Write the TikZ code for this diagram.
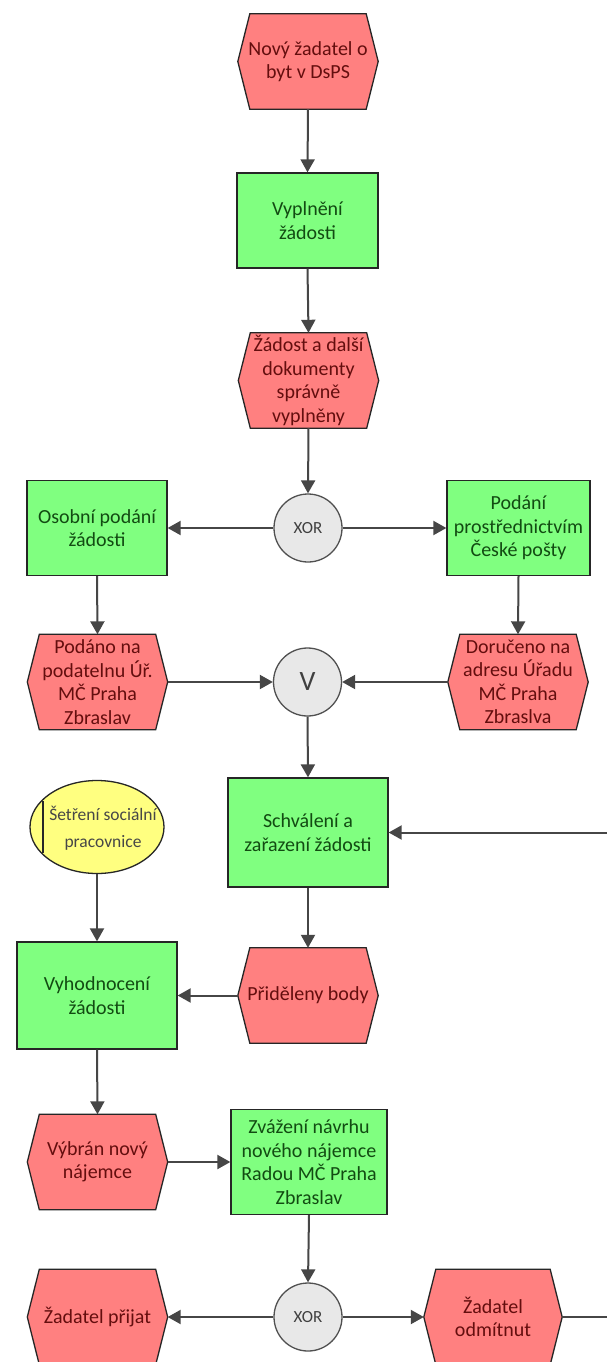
\documentclass[tikz,border=0pt]{standalone}
\usepackage{fontspec}
\setmainfont{Carlito}
\usetikzlibrary{arrows.meta,shapes.geometric,backgrounds}

\definecolor{evfill}{RGB}{255,128,128}
\definecolor{evtext}{RGB}{100,14,14}
\definecolor{fnfill}{RGB}{128,255,128}
\definecolor{fntext}{RGB}{18,75,18}
\definecolor{opfill}{RGB}{232,232,232}
\definecolor{opline}{RGB}{80,80,80}
\definecolor{orgfill}{RGB}{255,255,128}
\definecolor{linecol}{RGB}{70,70,70}

\tikzset{
  base/.style={font=\fontsize{20}{23.5}\selectfont, align=center, inner sep=0pt},
  event/.style={base, text=evtext, minimum width=140pt, minimum height=95pt},
  evshape/.style={fill=evfill, draw=black!85, line width=1.3pt, line join=miter},
  func/.style={base, draw=black!85, line width=1.3pt, fill=fnfill, text=fntext,
    minimum width=142pt, minimum height=95pt},
  oper/.style={base, circle, draw=opline, line width=1.3pt, fill=opfill,
    text=black!75, minimum size=68pt, font=\fontsize{17}{20}\selectfont},
  orgunit/.style={ellipse, draw=black!85, line width=1.3pt, fill=orgfill,
    inner sep=0pt, minimum width=134pt, minimum height=93pt},
  orglabel/.style={base, text=black!72, font=\fontsize{17.5}{27}\selectfont},
  arr/.style={draw=linecol, line width=2pt,
    -{Triangle[length=13pt,width=14pt]}},
}

\begin{document}
\begin{tikzpicture}[x=1pt,y=-1pt]
  \begin{scope}[on background layer]
    \path[use as bounding box, fill=white] (0,0) rectangle (607,1362);
  \end{scope}
  \clip (0,0) rectangle (607,1362);

  % events (hexagon outlines are added on the background layer below)
  \node[event] (n1) at (308,61.5) {Nový žadatel o\\byt v DsPS};
  \node[event] (n2) at (308.5,380.5) {Žádost a další\\dokumenty\\správně\\vyplněny};
  \node[event] (n3) at (97.5,682) {Podáno na\\podatelnu Úř.\\MČ Praha\\Zbraslav};
  \node[event] (n4) at (518,682) {Doručeno na\\adresu Úřadu\\MČ Praha\\Zbraslva};
  \node[event] (n5) at (308,995.5) {Přiděleny body};
  \node[event] (n6) at (97.5,1162) {Výbrán nový\\nájemce};
  \node[event] (n7) at (97.5,1317) {Žadatel přijat};
  \node[event, minimum width=138pt] (n8) at (493,1317) {Žadatel\\odmítnut};

  % functions
  \node[func, minimum width=141pt] (a1) at (307.5,220.5) {Vyplnění\\žádosti};
  \node[func, minimum width=140pt] (a2) at (97,528) {Osobní podání\\žádosti};
  \node[func, minimum width=143pt] (a3) at (518.5,528) {Podání\\prostřednictvím\\České pošty};
  \node[func, minimum width=160pt, minimum height=109pt] (a4) at (308,832.5) {Schválení a\\zařazení žádosti};
  \node[func, minimum width=160pt, minimum height=107pt] (a5) at (97,995.5) {Vyhodnocení\\žádosti};
  \node[func, minimum width=156pt, minimum height=105pt] (a6) at (309,1162) {Zvážení návrhu\\nového nájemce\\Radou MČ Praha\\Zbraslav};

  % operators
  \node[oper] (x1) at (308,528) {XOR};
  \node[oper, font=\fontsize{28}{30}\selectfont] (v1) at (307.5,682) {V};
  \node[oper] (x2) at (308,1317) {XOR};

  % organisational unit with its side bar
  \node[orgunit] (e1) at (97,827) {};
  \node[orglabel] (e1t) at (103,828) {Šetření sociální\\pracovnice};
  \draw[black!85, line width=1.3pt] ([xshift=-54pt,yshift=-26pt]e1.center) -- ([xshift=-54pt,yshift=26pt]e1.center);

  \begin{scope}[on background layer]
    \foreach \n in {n1,n2,n3,n4,n5,n6,n7,n8}
      \filldraw[evshape] ([xshift=12pt]\n.north west) -- ([xshift=-12pt]\n.north east)
        -- (\n.east) -- ([xshift=-12pt]\n.south east) -- ([xshift=12pt]\n.south west)
        -- (\n.west) -- cycle;
  \end{scope}

  % control flow
  \draw[arr] (n1.south) -- (a1.north);
  \draw[arr] (a1.south) -- (n2.north);
  \draw[arr] (n2.south) -- (x1.north);
  \draw[arr] (x1.west) -- (a2.east);
  \draw[arr] (x1.east) -- (a3.west);
  \draw[arr] (a2.south) -- (n3.north);
  \draw[arr] (a3.south) -- (n4.north);
  \draw[arr] (n3.east) -- (v1.west);
  \draw[arr] (n4.west) -- (v1.east);
  \draw[arr] (v1.south) -- (a4.north);
  \draw[arr] (a4.south) -- (n5.north);
  \draw[arr] (n5.west) -- (a5.east);
  \draw[arr] (e1.south) -- (a5.north);
  \draw[arr] (a5.south) -- (n6.north);
  \draw[arr] (n6.east) -- (a6.west);
  \draw[arr] (a6.south) -- (x2.north);
  \draw[arr] (x2.west) -- (n7.east);
  \draw[arr] (x2.east) -- (n8.west);
  \draw[arr] (n8.east) -- ++(80,0) |- (a4.east);
\end{tikzpicture}
\end{document}
